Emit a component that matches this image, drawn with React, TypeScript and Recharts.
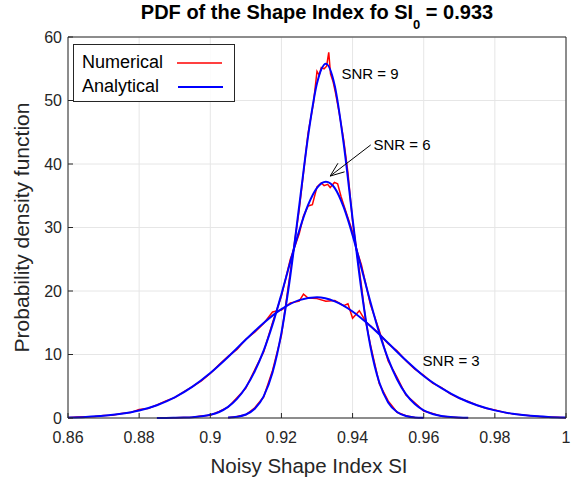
import React from 'react';
import {
  LineChart,
  Line,
  XAxis,
  YAxis,
  CartesianGrid,
  ReferenceDot,
  ReferenceLine,
} from 'recharts';

// axis ticks
const xTicks = [0.86, 0.88, 0.9, 0.92, 0.94, 0.96, 0.98, 1];
const yTicks = [0, 10, 20, 30, 40, 50, 60];

// SNR = 3
const snr3AnalyticalX = [
  0.86, 0.865, 0.87, 0.875, 0.88, 0.885, 0.89, 0.895, 0.9, 0.905, 0.91, 0.915, 0.92, 0.925, 0.93,
  0.935, 0.94, 0.945, 0.95, 0.955, 0.96, 0.965, 0.97, 0.975, 0.98, 0.985, 0.99, 0.995, 1.0,
];
const snr3AnalyticalY = [
  0.08, 0.17, 0.34, 0.66, 1.18, 2.01, 3.24, 4.93, 7.08, 9.61, 12.35, 14.97, 17.15, 18.57, 19.0,
  18.36, 16.77, 14.47, 11.8, 9.09, 6.62, 4.7, 3.15, 2.0, 1.2, 0.66, 0.34, 0.16, 0.07,
];
const snr3NumericalX = [
  0.86, 0.8625, 0.865, 0.8675, 0.87, 0.8725, 0.875, 0.8775, 0.88, 0.8825, 0.885, 0.8875, 0.89,
  0.8925, 0.895, 0.8975, 0.9, 0.9025, 0.905, 0.9075, 0.91, 0.9125, 0.915, 0.9175, 0.92, 0.9225,
  0.925, 0.9262, 0.9275, 0.93, 0.9325, 0.935, 0.9375, 0.9387, 0.94, 0.9419, 0.9437, 0.945, 0.9475,
  0.95, 0.9525, 0.955, 0.9575, 0.96, 0.9625, 0.965, 0.9675, 0.97, 0.9725, 0.975, 0.9775, 0.98,
  0.9825, 0.985, 0.9875, 0.99, 0.9925, 0.995, 0.9975, 1.0,
];
const snr3NumericalY = [
  0.05, 0.15, 0.18, 0.22, 0.38, 0.45, 0.7, 0.85, 1.35, 1.5, 2.05, 2.7, 3.2, 4.1, 4.95, 5.85, 7.0,
  8.4, 9.7, 10.8, 12.4, 13.5, 14.9, 16.7, 17.0, 18.1, 18.4, 19.5, 18.9, 18.8, 18.4, 18.5, 17.7,
  18.0, 15.7, 16.9, 15.2, 14.5, 13.3, 11.7, 10.6, 9.0, 7.7, 6.7, 5.5, 4.8, 3.8, 3.1, 2.6, 2.0,
  1.55, 1.25, 0.9, 0.65, 0.5, 0.35, 0.22, 0.15, 0.1, 0.05,
];

// SNR = 6
const snr6AnalyticalX = [
  0.885, 0.8875, 0.89, 0.8925, 0.895, 0.8975, 0.9, 0.9025, 0.905, 0.9075, 0.91, 0.9125, 0.915,
  0.9175, 0.92, 0.9225, 0.925, 0.9275, 0.93, 0.9325, 0.935, 0.9375, 0.94, 0.9425, 0.945, 0.9475,
  0.95, 0.9525, 0.955, 0.9575, 0.96, 0.9625, 0.965, 0.9675, 0.97, 0.9725,
];
const snr6AnalyticalY = [
  0.0, 0.01, 0.03, 0.06, 0.12, 0.26, 0.5, 0.95, 1.75, 3.0, 4.85, 7.35, 10.6, 14.7, 19.5, 24.6,
  29.5, 33.55, 36.25, 37.2, 36.2, 33.2, 28.8, 23.6, 18.3, 13.4, 9.3, 6.1, 3.75, 2.2, 1.2, 0.63,
  0.31, 0.14, 0.06, 0.02,
];
const snr6NumericalX = [
  0.885, 0.8875, 0.89, 0.8925, 0.895, 0.8975, 0.9, 0.9025, 0.905, 0.9075, 0.91, 0.9125, 0.915,
  0.9175, 0.92, 0.9225, 0.925, 0.9262, 0.9275, 0.9287, 0.93, 0.9312, 0.932, 0.933, 0.9337, 0.9349,
  0.9358, 0.9368, 0.9375, 0.94, 0.9412, 0.9425, 0.945, 0.9475, 0.95, 0.9525, 0.955, 0.9575, 0.96,
  0.9625, 0.965, 0.9675, 0.97, 0.9725,
];
const snr6NumericalY = [
  0.0, 0.02, 0.02, 0.08, 0.1, 0.3, 0.45, 1.05, 1.7, 3.2, 4.7, 7.6, 10.4, 15.0, 19.2, 25.0, 29.0,
  31.8, 33.4, 33.6, 36.4, 37.0, 36.6, 36.8, 36.3, 37.1, 36.9, 34.8, 33.6, 29.3, 26.4, 24.1, 17.9,
  13.8, 9.0, 6.4, 3.6, 2.4, 1.1, 0.7, 0.28, 0.16, 0.05, 0.02,
];

// SNR = 9
const snr9AnalyticalX = [
  0.905, 0.9075, 0.91, 0.9125, 0.915, 0.9175, 0.92, 0.9225, 0.925, 0.9275, 0.93, 0.9325, 0.935,
  0.9375, 0.94, 0.9425, 0.945, 0.9475, 0.95, 0.9525, 0.955, 0.9575, 0.96,
];
const snr9AnalyticalY = [
  0.06, 0.19, 0.55, 1.45, 3.41, 7.15, 13.4, 22.4, 33.4, 44.4, 52.7, 55.8, 52.3, 43.2, 31.4, 20.1,
  11.3, 5.62, 2.45, 0.94, 0.32, 0.09, 0.03,
];
const snr9NumericalX = [
  0.905, 0.9075, 0.91, 0.9125, 0.915, 0.9175, 0.92, 0.9225, 0.925, 0.9262, 0.9275, 0.929, 0.93,
  0.9306, 0.9312, 0.932, 0.9327, 0.9333, 0.9338, 0.9345, 0.9352, 0.9362, 0.9375, 0.9387, 0.94,
  0.9412, 0.9425, 0.9437, 0.945, 0.9475, 0.95, 0.9525, 0.955, 0.9575, 0.96,
];
const snr9NumericalY = [
  0.05, 0.22, 0.5, 1.6, 3.3, 7.5, 13.0, 23.0, 32.8, 38.6, 44.9, 49.6, 54.6, 54.0, 55.2, 55.0, 55.4,
  57.6, 54.2, 53.0, 51.2, 48.2, 43.8, 38.6, 31.0, 26.1, 20.8, 15.2, 11.6, 5.4, 2.7, 0.9, 0.35,
  0.08, 0.03,
];

const toPoints = (xs: number[], ys: number[]) => xs.map((x, i) => ({ x, y: ys[i] }));

const numericalSeries = [
  { name: 'num-3', data: toPoints(snr3NumericalX, snr3NumericalY) },
  { name: 'num-6', data: toPoints(snr6NumericalX, snr6NumericalY) },
  { name: 'num-9', data: toPoints(snr9NumericalX, snr9NumericalY) },
];
const analyticalSeries = [
  { name: 'ana-3', data: toPoints(snr3AnalyticalX, snr3AnalyticalY) },
  { name: 'ana-6', data: toPoints(snr6AnalyticalX, snr6AnalyticalY) },
  { name: 'ana-9', data: toPoints(snr9AnalyticalX, snr9AnalyticalY) },
];

const AXIS = '#262626';
const FONT = '"Liberation Sans", Arial, Helvetica, sans-serif';

// arrow pointing at the SNR = 6 peak
const ArrowShape = (props: any) => {
  const { x1, y1, x2, y2 } = props;
  const ang = Math.atan2(y1 - y2, x1 - x2);
  const len = 15;
  const spread = 0.37;
  return (
    <g stroke="#000" strokeWidth={1}>
      <line x1={x1} y1={y1} x2={x2} y2={y2} />
      <line x1={x2} y1={y2} x2={x2 + len * Math.cos(ang - spread)} y2={y2 + len * Math.sin(ang - spread)} />
      <line x1={x2} y1={y2} x2={x2 + len * Math.cos(ang + spread)} y2={y2 + len * Math.sin(ang + spread)} />
    </g>
  );
};

const snrLabel = (value: string) => ({
  value,
  position: 'center' as const,
  fontSize: 15,
  fill: '#000',
});

const App: React.FC = () => {
  return (
    <div
      style={{
        position: 'absolute',
        left: 0,
        top: 0,
        width: 579,
        height: 479,
        background: '#fff',
        fontFamily: FONT,
      }}
    >
      <LineChart width={579} height={479} margin={{ top: 36, right: 12, bottom: 0, left: 0 }}>
        <CartesianGrid stroke="#e6e6e6" strokeWidth={1} />
        <XAxis
          dataKey="x"
          type="number"
          domain={[0.86, 1]}
          ticks={xTicks}
          allowDataOverflow
          height={61}
          tickFormatter={(v: number) => String(Number(v.toFixed(2)))}
          tick={{ fontSize: 16, fill: AXIS }}
          tickSize={-5}
          tickMargin={19}
          stroke={AXIS}
          tickLine={{ stroke: AXIS }}
        />
        <XAxis
          xAxisId="top"
          orientation="top"
          type="number"
          domain={[0.86, 1]}
          ticks={xTicks}
          height={1}
          tick={false}
          tickSize={-5}
          stroke={AXIS}
          tickLine={{ stroke: AXIS }}
        />
        <YAxis
          type="number"
          domain={[0, 60]}
          ticks={yTicks}
          width={68}
          tick={{ fontSize: 16, fill: AXIS }}
          tickSize={-5}
          tickMargin={11}
          stroke={AXIS}
          tickLine={{ stroke: AXIS }}
        />
        <YAxis
          yAxisId="right"
          orientation="right"
          type="number"
          domain={[0, 60]}
          ticks={yTicks}
          width={1}
          tick={false}
          tickSize={-5}
          stroke={AXIS}
          tickLine={{ stroke: AXIS }}
        />
        {numericalSeries.map((s) => (
          <Line
            key={s.name}
            name={s.name}
            data={s.data}
            dataKey="y"
            type="linear"
            stroke="#ff0000"
            strokeWidth={1.5}
            dot={false}
            isAnimationActive={false}
          />
        ))}
        {analyticalSeries.map((s) => (
          <Line
            key={s.name}
            name={s.name}
            data={s.data}
            dataKey="y"
            type="monotone"
            stroke="#0000ff"
            strokeWidth={2}
            dot={false}
            isAnimationActive={false}
          />
        ))}
        <ReferenceDot x={0.9449} y={54.2} r={0} fill="none" stroke="none" label={snrLabel('SNR = 9')} />
        <ReferenceDot x={0.9539} y={43.1} r={0} fill="none" stroke="none" label={snrLabel('SNR = 6')} />
        <ReferenceDot x={0.9677} y={9.1} r={0} fill="none" stroke="none" label={snrLabel('SNR = 3')} />
        <ReferenceLine
          segment={[
            { x: 0.9451, y: 43.0 },
            { x: 0.9337, y: 38.1 },
          ]}
          shape={ArrowShape}
        />
      </LineChart>

      <svg
        width={579}
        height={479}
        style={{ position: 'absolute', left: 0, top: 0, pointerEvents: 'none' }}
      >
        <text x={317} y={19} textAnchor="middle" fontSize={20} fontWeight="bold" fill="#000">
          PDF of the Shape Index fo SI
          <tspan fontSize={13} dy={10}>0</tspan>
          <tspan dy={-10}> = 0.933</tspan>
        </text>
        <text x={309} y={473} textAnchor="middle" fontSize={20.5} fill={AXIS}>
          Noisy Shape Index SI
        </text>
        <text transform="translate(29,227.5) rotate(-90)" textAnchor="middle" fontSize={21} fill={AXIS}>
          Probability density function
        </text>
        <g>
          <rect x={73.5} y={44.5} width={161} height={57} fill="#fff" fillOpacity={0.85} stroke={AXIS} />
          <text x={82} y={68} fontSize={18} fill="#000">
            Numerical
          </text>
          <line x1={177} y1={63} x2={222} y2={63} stroke="#ff0000" strokeWidth={1.5} />
          <text x={82} y={91.5} fontSize={18} fill="#000">
            Analytical
          </text>
          <line x1={178} y1={87} x2={223} y2={87} stroke="#0000ff" strokeWidth={2} />
        </g>
      </svg>
    </div>
  );
};

export default App;
